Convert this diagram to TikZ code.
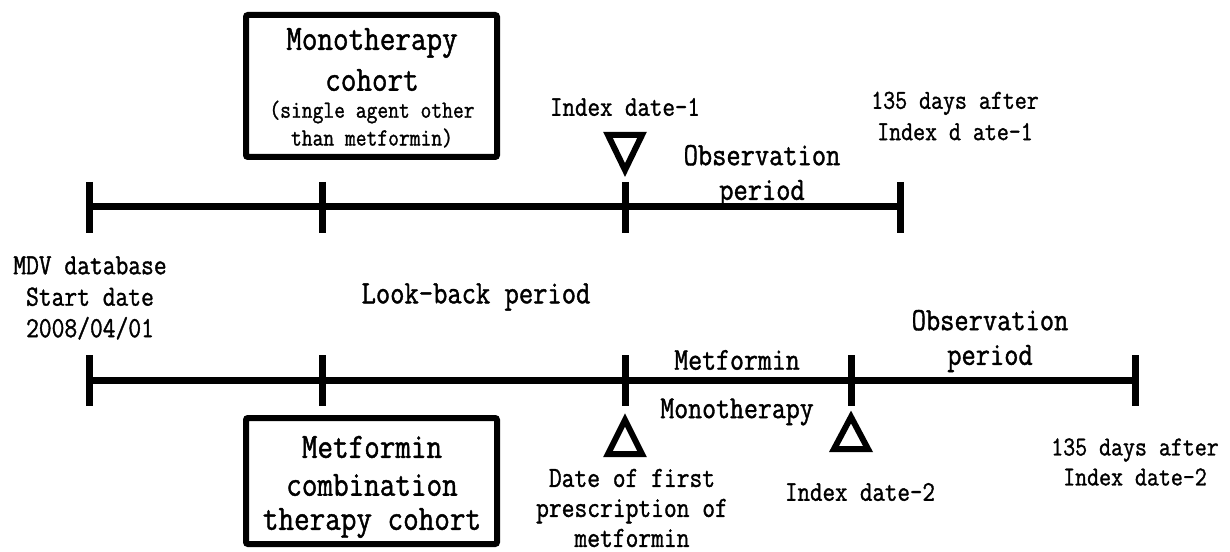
\documentclass[tikz,border=0pt]{standalone}
\usepackage{fontspec}
\newfontfamily\simfont{Latin Modern Mono}[FakeStretch=0.85, FakeBold=1.2]
\usetikzlibrary{positioning}
\tikzset{
  axis/.style={line width=5.25pt},
  tickmark/.style={line width=5.25pt},
  marker/.style={line width=4.5pt, line join=miter},
  cohortbox/.style={draw, line width=4.5pt, rounded corners=1.5pt, inner sep=0pt,
    minimum width=188.25pt},
  lbl/.style={align=center, inner sep=0pt},
  boxfont/.style={lbl, font=\simfont\fontsize{26.7}{31}\selectfont},
  notefont/.style={lbl, font=\simfont\fontsize{18.5}{20}\selectfont}
}

\begin{document}
\begin{tikzpicture}[x=0.75pt, y=-0.75pt]
  \useasboundingbox (0,0) rectangle (1230,552);

  %% upper time line
  \foreach \n/\tx in {a/89,b/322,c/625,d/900}{
    \coordinate (up\n) at (\tx,207);
    \draw[tickmark] (\tx,182) -- (\tx,233);
  }
  \draw[axis] (upa) -- (upd);

  %% lower time line
  \foreach \n/\tx in {a/89,b/322,c/625,d/851,e/1135}{
    \coordinate (lo\n) at (\tx,380);
    \draw[tickmark] (\tx,355) -- (\tx,406);
  }
  \draw[axis] (loa) -- (loe);

  %% markers
  \draw[marker] (608,135) -- (642,135) -- (625,170) -- cycle;
  \draw[marker] (625,420) -- (642,454) -- (608,454) -- cycle;
  \draw[marker] (851,417) -- (868,449) -- (834,449) -- cycle;

  %% cohort boxes
  \node[cohortbox, minimum height=106.5pt] (mono) at (371.5,86) {};
  \node[boxfont] (monoA) at (372,43) {Monotherapy};
  \node[boxfont] (monoB) at (372,80) {cohort};
  \node[notefont] (monoC) at (372,112) {(single agent other};
  \node[notefont] (monoD) at (372,138) {than metformin)};

  \node[cohortbox, minimum height=94.5pt] (combo) at (371.5,481) {};
  \node[boxfont] (comboA) at (372,447) {Metformin};
  \node[boxfont] (comboB) at (372,485) {combination};
  \node[boxfont] (comboC) at (372,523) {therapy cohort};

  %% labels upper line
  \node[lbl, font=\simfont\fontsize{21.4}{24}\selectfont] (idx1) at (625,107) {Index date-1};
  \node[lbl, font=\simfont\fontsize{24.4}{26}\selectfont] (obs1) at (762,176) {Observation\\ period};
  \node[lbl, font=\simfont\fontsize{20.5}{23.5}\selectfont] (end1) at (955,116) {135 days after\\ Index d ate-1};

  %% labels between the lines
  \node[lbl, font=\simfont\fontsize{21.9}{23.6}\selectfont] (start) at (90,298) {MDV database\\ Start date\\ 2008/04/01};
  \node[lbl, font=\simfont\fontsize{24.5}{26}\selectfont] (look) at (476,297) {Look-back period};
  \node[lbl, font=\simfont\fontsize{24.4}{26}\selectfont] (obs2) at (990,341) {Observation\\ period};

  %% labels lower line
  \node[lbl, font=\simfont\fontsize{23.9}{26}\selectfont] (met) at (737,360) {Metformin};
  \node[lbl, font=\simfont\fontsize{23.9}{26}\selectfont] (monoth) at (737,412) {Monotherapy};
  \node[lbl, font=\simfont\fontsize{21.9}{22.5}\selectfont] (first) at (632,508) {Date of first\\ prescription of\\ metformin};
  \node[lbl, font=\simfont\fontsize{21.4}{24}\selectfont] (idx2) at (860,492) {Index date-2};
  \node[lbl, font=\simfont\fontsize{20.5}{22.5}\selectfont] (end2) at (1135,462) {135 days after\\ Index date-2};

\end{tikzpicture}
\end{document}
